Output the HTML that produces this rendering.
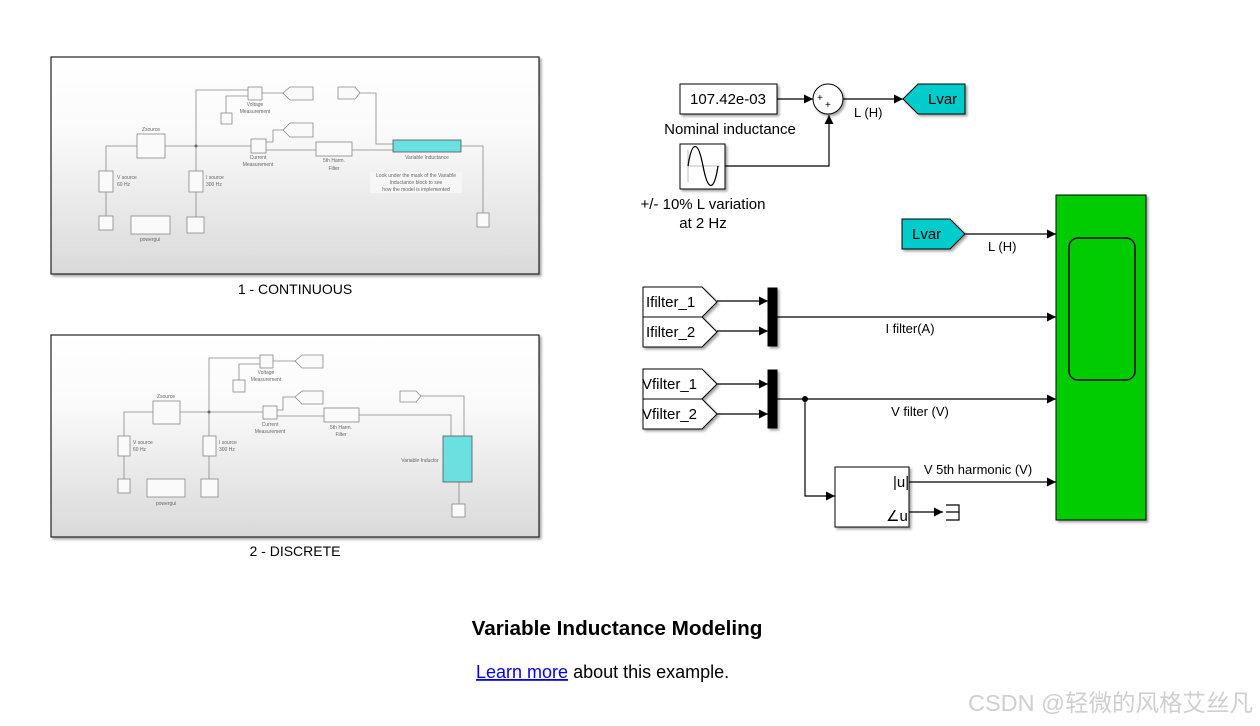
<!DOCTYPE html>
<html><head><meta charset="utf-8"><style>
html,body{margin:0;padding:0;background:#fff;width:1260px;height:726px;overflow:hidden}
svg{display:block}
text{font-family:"Liberation Sans",sans-serif}
</style></head><body>
<svg width="1260" height="726" viewBox="0 0 1260 726" xmlns="http://www.w3.org/2000/svg">
<defs>
<linearGradient id="pg" x1="0" y1="0" x2="0" y2="1">
<stop offset="0" stop-color="#ffffff"/><stop offset="0.35" stop-color="#fafafa"/><stop offset="1" stop-color="#d9d9d9"/>
</linearGradient>
<marker id="ar" viewBox="0 0 10 10" refX="10" refY="5" markerWidth="9" markerHeight="9" markerUnits="userSpaceOnUse" orient="auto"><path d="M0,0L10,5L0,10z" fill="#000"/></marker>
<filter id="sh"><feDropShadow dx="2" dy="2" stdDeviation="1.2" flood-opacity="0.35"/></filter>
</defs>

<!-- Panel 1 -->
<rect x="51" y="57" width="488" height="217" fill="url(#pg)" stroke="#222" stroke-width="1.2" filter="url(#sh)"/>
<g stroke="#888" stroke-width="0.8" fill="#fafafa">
<polyline fill="none" points="106,171 106,146 137,146"/>
<polyline fill="none" points="165,146 251,146"/>
<polyline fill="none" points="196,171 196,90 248,90"/>
<polyline fill="none" points="226,113 226,96 248,96"/>
<polyline fill="none" points="262,93 283,93"/>
<polyline fill="none" points="266,142 273,142 273,130 283,130"/>
<polyline fill="none" points="266,150 316,150"/>
<polyline fill="none" points="352,150 393,150"/>
<polyline fill="none" points="360,93 376,93 376,144 393,144"/>
<polyline fill="none" points="461,146 483,146 483,213"/>
<line x1="106" y1="192" x2="106" y2="216"/><line x1="196" y1="192" x2="196" y2="217"/>
<rect x="137" y="134" width="28" height="24"/>
<rect x="99" y="171" width="14" height="21"/><rect x="99" y="216" width="14" height="14"/>
<rect x="131" y="216" width="39" height="18"/>
<rect x="189" y="171" width="14" height="21"/><rect x="187" y="217" width="17" height="16"/>
<rect x="248" y="87" width="14" height="13"/><rect x="221" y="113" width="11" height="11"/>
<polygon points="283,93 290,87 313,87 313,100 290,100"/>
<rect x="251" y="139" width="15" height="14"/>
<polygon points="283,130 290,123 313,123 313,137 290,137"/>
<rect x="316" y="142" width="36" height="14"/>
<polygon points="338,87 355,87 360,93 355,99 338,99"/>
<rect x="393" y="140" width="68" height="12" fill="#6ae0e0" stroke="#555"/>
<rect x="477" y="213" width="12" height="14"/>
</g>
<circle cx="196" cy="146" r="1.5" fill="#666"/>
<rect x="370" y="172" width="92" height="21" fill="#f6f6f6"/>
<g font-size="5" fill="#666" text-anchor="middle">
<text x="151" y="131">Zsource</text>
<text x="255" y="106">Voltage</text><text x="255" y="113">Measurement</text>
<text x="258" y="159">Current</text><text x="258" y="166">Measurement</text>
<text x="334" y="162">5th Harm.</text><text x="334" y="170">Filter</text>
<text x="427" y="159">Variable Inductance</text>
<text x="416" y="177">Look under the mask of  the Variable</text>
<text x="416" y="184">Inductance block to see</text>
<text x="416" y="191">how the model is implemented</text>
<text x="150" y="241">powergui</text>
</g>
<g font-size="5" fill="#666">
<text x="117" y="179">V source</text><text x="117" y="186">60 Hz</text>
<text x="206" y="179">I source</text><text x="206" y="186">300 Hz</text>
</g>
<text x="295" y="294" font-size="14" text-anchor="middle" fill="#000">1 - CONTINUOUS</text>

<!-- Panel 2 -->
<rect x="51" y="335" width="488" height="202" fill="url(#pg)" stroke="#222" stroke-width="1.2" filter="url(#sh)"/>
<g stroke="#888" stroke-width="0.8" fill="#fafafa">
<polyline fill="none" points="124,436 124,412 153,412"/>
<polyline fill="none" points="180,412 263,412"/>
<polyline fill="none" points="209,436 209,358 260,358"/>
<polyline fill="none" points="239,380 239,364 260,364"/>
<polyline fill="none" points="273,361 295,361"/>
<polyline fill="none" points="277,410 283,410 283,397 295,397"/>
<polyline fill="none" points="277,416 324,416"/>
<polyline fill="none" points="359,415 451,415 451,436"/>
<polyline fill="none" points="421,396 464,396 464,436"/>
<line x1="124" y1="456" x2="124" y2="479"/><line x1="209" y1="456" x2="209" y2="479"/>
<line x1="459" y1="482" x2="459" y2="504"/>
<rect x="153" y="401" width="27" height="23"/>
<rect x="118" y="436" width="12" height="20"/><rect x="118" y="479" width="12" height="14"/>
<rect x="147" y="479" width="38" height="18"/>
<rect x="203" y="436" width="13" height="20"/><rect x="201" y="479" width="17" height="18"/>
<rect x="260" y="355" width="13" height="13"/><rect x="233" y="380" width="12" height="12"/>
<polygon points="295,361 302,355 323,355 323,368 302,368"/>
<rect x="263" y="406" width="14" height="13"/>
<polygon points="295,397 302,391 323,391 323,404 302,404"/>
<rect x="324" y="408" width="35" height="14"/>
<polygon points="400,391 416,391 421,396 416,402 400,402"/>
<rect x="443" y="436" width="29" height="46" fill="#6ae0e0" stroke="#555"/>
<rect x="452" y="504" width="13" height="13"/>
</g>
<circle cx="209" cy="412" r="1.5" fill="#666"/>
<g font-size="5" fill="#666" text-anchor="middle">
<text x="166" y="398">Zsource</text>
<text x="266" y="374">Voltage</text><text x="266" y="381">Measurement</text>
<text x="270" y="426">Current</text><text x="270" y="433">Measurement</text>
<text x="341" y="429">5th Harm.</text><text x="341" y="436">Filter</text>
<text x="420" y="462">Variable Inductor</text>
<text x="166" y="505">powergui</text>
</g>
<g font-size="5" fill="#666">
<text x="133" y="444">V source</text><text x="133" y="451">60 Hz</text>
<text x="219" y="444">I source</text><text x="219" y="451">300 Hz</text>
</g>
<text x="295" y="556" font-size="14" text-anchor="middle" fill="#000">2 - DISCRETE</text>

<!-- Right diagram -->
<g stroke="#000" stroke-width="1.2" fill="none">
<line x1="777" y1="99" x2="813" y2="99" marker-end="url(#ar)"/>
<line x1="843" y1="99" x2="903" y2="99" marker-end="url(#ar)"/>
<polyline points="725,166 829,166 829,115" marker-end="url(#ar)"/>
<line x1="962" y1="234" x2="1056" y2="234" marker-end="url(#ar)"/>
<line x1="717" y1="301" x2="768" y2="301" marker-end="url(#ar)"/>
<line x1="717" y1="331" x2="768" y2="331" marker-end="url(#ar)"/>
<line x1="777" y1="317" x2="1056" y2="317" marker-end="url(#ar)"/>
<line x1="717" y1="384" x2="768" y2="384" marker-end="url(#ar)"/>
<line x1="717" y1="414" x2="768" y2="414" marker-end="url(#ar)"/>
<line x1="777" y1="399" x2="1056" y2="399" marker-end="url(#ar)"/>
<polyline points="805,399 805,496 835,496" marker-end="url(#ar)"/>
<line x1="909" y1="482" x2="1056" y2="482" marker-end="url(#ar)"/>
<line x1="909" y1="512" x2="943" y2="512" marker-end="url(#ar)"/>
</g>
<circle cx="805" cy="399" r="3" fill="#000"/>
<g stroke="#000" stroke-width="1" filter="url(#sh)">
<rect x="680" y="84" width="97" height="30" fill="#fff"/>
<circle cx="828" cy="99" r="15" fill="#fff"/>
<polygon points="903,99 918,84 965,84 965,114 918,114" fill="#00cccc"/>
<rect x="680" y="144" width="45" height="45" fill="#fff"/>
<polygon points="902,219 950,219 965,234 950,249 902,249" fill="#00cccc"/>
<polygon points="643,287 702,287 717,302 702,317 643,317" fill="#fff"/>
<polygon points="643,317 702,317 717,332 702,347 643,347" fill="#fff"/>
<polygon points="643,369 702,369 717,384 702,399 643,399" fill="#fff"/>
<polygon points="643,399 702,399 717,414 702,429 643,429" fill="#fff"/>
<rect x="768" y="288" width="9" height="58" fill="#000"/>
<rect x="768" y="370" width="9" height="58" fill="#000"/>
<rect x="835" y="467" width="74" height="60" fill="#fff"/>
<rect x="1056" y="195" width="90" height="325" fill="#00cc00"/>
</g>
<path d="M946,505 H959 V520 H946 M946,512 H959" stroke="#000" stroke-width="1.2" fill="none"/>
<rect x="1069" y="238" width="66" height="142" rx="9" fill="none" stroke="#000" stroke-width="1.5"/>
<line x1="688" y1="166" x2="720" y2="166" stroke="#aaa" stroke-width="0.8"/>
<line x1="688" y1="150" x2="688" y2="182" stroke="#aaa" stroke-width="0.8"/>
<path d="M688,166 C692,140 698,140 703,166 C708,192 714,192 718,166" stroke="#000" stroke-width="1.3" fill="none"/>
<g font-size="15" fill="#000">
<text x="728" y="104" text-anchor="middle">107.42e-03</text>
<text x="730" y="134" text-anchor="middle">Nominal inductance</text>
<text x="703" y="209" text-anchor="middle">+/- 10% L variation</text>
<text x="703" y="228" text-anchor="middle">at 2 Hz</text>
<text x="928" y="104">Lvar</text>
<text x="912" y="239">Lvar</text>
<text x="646" y="307">Ifilter_1</text>
<text x="646" y="337">Ifilter_2</text>
<text x="642" y="389">Vfilter_1</text>
<text x="642" y="419">Vfilter_2</text>
<text x="893" y="487">|u|</text>
<text x="886" y="521">∠u</text>
</g>
<g font-size="13" fill="#000">
<text x="817" y="101" font-size="10">+</text><text x="825" y="108" font-size="10">+</text>
<text x="854" y="117">L  (H)</text>
<text x="988" y="251">L (H)</text>
<text x="910" y="333" text-anchor="middle">I filter(A)</text>
<text x="920" y="416" text-anchor="middle">V filter (V)</text>
<text x="978" y="474" text-anchor="middle">V 5th harmonic (V)</text>
</g>

<text x="617" y="635" font-size="20.7" font-weight="bold" text-anchor="middle" fill="#000">Variable Inductance Modeling</text>
<text x="476" y="678" font-size="18" fill="#000"><tspan fill="#0000ee" text-decoration="underline">Learn more</tspan> about this example.</text>
<text x="968" y="711" font-size="23.5" fill="#cfcfcf" font-family="'Liberation Sans','Noto Sans CJK SC',sans-serif">CSDN @轻微的风格艾丝凡</text>
</svg>
</body></html>
